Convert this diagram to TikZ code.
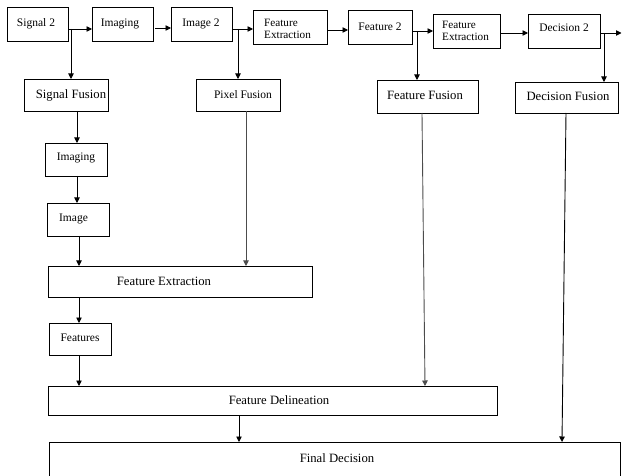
\documentclass[tikz,border=0pt]{standalone}
\usepackage{fontspec}
\setmainfont{Liberation Serif}
\usetikzlibrary{arrows.meta}
\tikzset{
  box/.style={draw=black, line width=0.9pt, inner sep=0pt, outer sep=0pt},
  lbl/.style={inner sep=0pt, anchor=base, font=\fontsize{11.5}{12}\selectfont},
  lblb/.style={inner sep=0pt, anchor=base, font=\fontsize{12.7}{14}\selectfont},
  lbl2/.style={inner sep=0pt, anchor=west, align=left, font=\fontsize{11.2}{12.3}\selectfont},
  arr/.style={-{Triangle[length=5.5pt,width=5.5pt]}, line width=0.9pt, draw=black},
  arrg/.style={arr, draw=black!70},
}
\newcommand\mybox[5]{\node[box, minimum width={#4-#2}, minimum height={#5-#3}] (#1) at ({(#2+#4)/2},{(#3+#5)/2}) {};}
\begin{document}
\begin{tikzpicture}[x=1pt,y=-1pt]
\useasboundingbox (0,0) rectangle (622,476);
% boxes
\mybox{s2}{7}{7}{68}{41}
\mybox{im1}{92}{7}{153}{41}
\mybox{i2}{171}{7}{232}{41}
\mybox{fe1}{253}{10}{327}{44}
\mybox{f2}{348}{10}{412}{44}
\mybox{fe2}{433}{14}{500}{48}
\mybox{d2}{528}{14}{600}{48}
\mybox{sf}{24}{79}{108}{111}
\mybox{pf}{196}{79}{280}{111}
\mybox{ff}{377}{80}{478}{113}
\mybox{df}{515}{82}{618}{113}
\mybox{im2}{45}{143}{107}{176}
\mybox{img}{47}{203}{109}{236}
\mybox{fe3}{48}{266}{312}{297}
\mybox{feats}{49}{323}{111}{355}
\mybox{fdl}{48}{386}{497}{415}
\mybox{fin}{49}{442}{620}{490}
% labels
\node[lbl] (s2t) at (36,26.5) {Signal 2};
\node[lbl] (im1t) at (120,26.5) {Imaging};
\node[lbl] (i2t) at (201,26.5) {Image 2};
\node[lbl2] (fe1t) at (264,28.7) {Feature\\Extraction};
\node[lbl] (f2t) at (380,30.5) {Feature 2};
\node[lbl2] (fe2t) at (442,31.2) {Feature\\Extraction};
\node[lbl] (d2t) at (564,32) {Decision 2};
\node[lblb] (sft) at (71,99) {Signal Fusion};
\node[lbl] (pft) at (243,98.5) {Pixel Fusion};
\node[lblb] (fft) at (425,100) {Feature Fusion};
\node[lblb] (dft) at (568,101) {Decision Fusion};
\node[lbl] (im2t) at (76,160.5) {Imaging};
\node[lbl] (imgt) at (73.5,221.5) {Image};
\node[lblb] (fe3t) at (164,285) {Feature Extraction};
\node[lbl] (featst) at (80,341.5) {Features};
\node[lblb] (fdlt) at (279,404) {Feature Delineation};
\node[lblb] (fint) at (337,462) {Final Decision};
% top row connectors
\coordinate (a1) at (0,29);
\coordinate (a2) at (155,28);
\coordinate (a3) at (0,29);
\coordinate (a4) at (0,30);
\coordinate (a5) at (0,31);
\coordinate (a6) at (0,33);
\coordinate (out) at (621.5,33);
\coordinate (j1) at (71,29);
\coordinate (j2) at (238,29);
\coordinate (j3) at (417,31);
\coordinate (j4) at (604,33);
\draw[arr] (s2.east |- a1) -- (im1.west |- a1);
\draw[arr] (a2) -- (i2.west |- a2);
\draw[arr] (i2.east |- a3) -- (fe1.west |- a3);
\draw[arr] (fe1.east |- a4) -- (f2.west |- a4);
\draw[arr] (f2.east |- a5) -- (fe2.west |- a5);
\draw[arr] (fe2.east |- a6) -- (d2.west |- a6);
\draw[arr] (d2.east |- out) -- (out);
\draw[arr] (j1) -- (sf.north -| j1);
\draw[arr] (j2) -- (pf.north -| j2);
\draw[arr] (j3) -- (ff.north -| j3);
\draw[arr] (j4) -- (df.north -| j4);
% lower connectors
\coordinate (c1) at (77,0);
\coordinate (c2) at (79,0);
\coordinate (c3) at (246,0);
\coordinate (c4a) at (422,0);
\coordinate (c4b) at (425,0);
\coordinate (c5) at (239,0);
\coordinate (c6a) at (566,0);
\coordinate (c6b) at (562,0);
\draw[arr] (sf.south -| c1) -- (im2.north -| c1);
\draw[arr] (im2.south -| c1) -- (img.north -| c1);
\draw[arr] (img.south -| c2) -- (fe3.north -| c2);
\draw[arrg] (pf.south -| c3) -- (fe3.north -| c3);
\draw[arr] (fe3.south -| c2) -- (feats.north -| c2);
\draw[arr] (feats.south -| c2) -- (fdl.north -| c2);
\draw[arrg] (ff.south -| c4a) -- (fdl.north -| c4b);
\draw[arr] (fdl.south -| c5) -- (fin.north -| c5);
\draw[arr] (df.south -| c6a) -- (fin.north -| c6b);
\end{tikzpicture}
\end{document}
